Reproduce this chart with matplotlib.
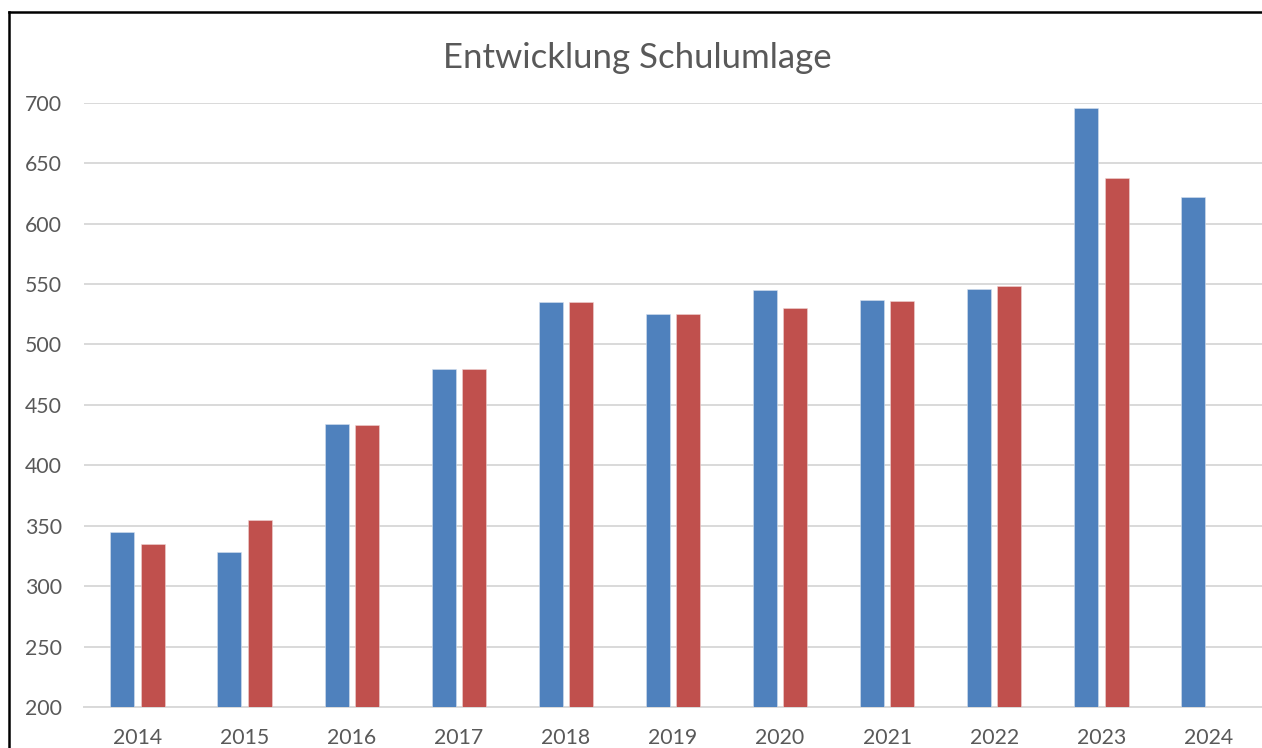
import matplotlib.pyplot as plt
import numpy as np
from matplotlib.lines import Line2D

# Data
years = ['2014', '2015', '2016', '2017', '2018', '2019', '2020', '2021', '2022', '2023', '2024']
series_blue = [345, 328, 434, 480, 535, 525, 545, 537, 546, 696, 622]
series_red = [335, 355, 433, 480, 535, 525, 530, 536, 548, 638, np.nan]
yticks = [200, 250, 300, 350, 400, 450, 500, 550, 600, 650, 700]

plt.rcParams['font.family'] = ['Lato', 'DejaVu Sans']
txt_col = '#595959'
grid_col = '#D9D9D9'

W, H = 1262, 748
fig = plt.figure(figsize=(W / 100, H / 100), dpi=100)
ax = fig.add_axes([84 / W, (H - 707) / H, (W - 84) / W, 604.3 / H])

x = np.arange(len(years))
bw = 0.224
off = 0.142
ax.bar(x - off, series_blue, bw, color='#4F81BD', edgecolor='#D6E0EE', linewidth=0.4, zorder=3)
ax.bar(x + off, series_red, bw, color='#C0504D', edgecolor='#EFD3D2', linewidth=0.4, zorder=3)

ax.set_xlim(-0.5, len(years) - 0.5)
ax.set_ylim(200, 700)
ax.set_yticks(yticks)
ax.set_xticks(x)
ax.set_xticklabels(years)
ax.grid(axis='y', color=grid_col, linewidth=1.4, zorder=0)
ax.set_axisbelow(True)
for s in ['top', 'right', 'left']:
    ax.spines[s].set_visible(False)
ax.spines['bottom'].set_color(grid_col)
ax.spines['bottom'].set_linewidth(1.4)
ax.tick_params(axis='both', length=0, labelsize=15.3, colors=txt_col)
ax.tick_params(axis='x', pad=15)
ax.tick_params(axis='y', pad=16)

fig.text(637 / W, 1 - 58 / H, 'Entwicklung Schulumlage', ha='center', va='center',
         fontsize=25, color=txt_col)

# outer chart frame (partially cropped in the reference)
fig.add_artist(Line2D([9 / W, 1], [1 - 12 / H, 1 - 12 / H], color='black', linewidth=1.8,
                      transform=fig.transFigure))
fig.add_artist(Line2D([9 / W, 9 / W], [1 - 12 / H, 0], color='black', linewidth=1.8,
                      transform=fig.transFigure))

fig.savefig('out.png', dpi=100)
